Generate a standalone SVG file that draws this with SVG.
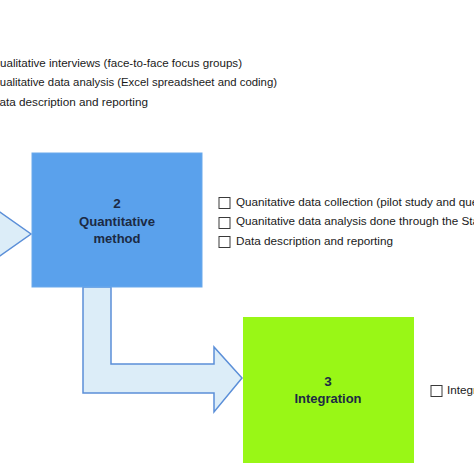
<svg xmlns="http://www.w3.org/2000/svg" width="474" height="474" viewBox="0 0 474 474">
<style>
.list{font-family:"Liberation Sans",Arial,sans-serif;font-size:11.7px;fill:#1a1a1a}
.title{font-family:"Liberation Sans",Arial,sans-serif;font-size:13.5px;font-weight:bold;fill:#1c2a44;text-anchor:middle}
.cb{fill:#fff;stroke:#3a3a3a;stroke-width:1}
.arrow{fill:#dcedf8;stroke:#5b8fd8;stroke-width:1.5;stroke-linejoin:miter}
</style>
<rect width="474" height="474" fill="#fff"/>
<g id="list1">
<text class="list" x="-9" y="67" textLength="251" lengthAdjust="spacingAndGlyphs">Qualitative interviews (face-to-face focus groups)</text>
<text class="list" x="-9" y="86" textLength="286" lengthAdjust="spacingAndGlyphs">Qualitative data analysis (Excel spreadsheet and coding)</text>
<text class="list" x="-9" y="106" textLength="157" lengthAdjust="spacingAndGlyphs">Data description and reporting</text>
</g>
<g id="connectors">
<polygon class="arrow" points="-20,198 31,234 -20,270"/>
<path class="arrow" d="M83,287 L111,287 L111,364 L214,364 L214,347 L242,378 L214,412 L214,393 L83,393 Z"/>
</g>
<g id="node2">
<rect x="32" y="153" width="170" height="134" fill="#5aa1ec" stroke="#6aa9ec" stroke-width="1"/>
<text class="title" x="117" y="208">2</text>
<text class="title" x="117" y="226" textLength="76" lengthAdjust="spacingAndGlyphs">Quantitative</text>
<text class="title" x="117" y="243" textLength="47" lengthAdjust="spacingAndGlyphs">method</text>
</g>
<g id="list2">
<rect class="cb" x="219" y="197.5" width="11" height="11"/>
<rect class="cb" x="219" y="217.5" width="11" height="11"/>
<rect class="cb" x="219" y="236.5" width="11" height="11"/>
<text class="list" x="236" y="206">Quanitative data collection (pilot study and questionnaire)</text>
<text class="list" x="236" y="225">Quanitative data analysis done through the Statistical Package</text>
<text class="list" x="236" y="245" textLength="157" lengthAdjust="spacingAndGlyphs">Data description and reporting</text>
</g>
<g id="node3">
<rect x="243" y="317" width="171" height="146" fill="#99f716"/>
<text class="title" x="328" y="386">3</text>
<text class="title" x="328" y="403" textLength="67" lengthAdjust="spacingAndGlyphs">Integration</text>
</g>
<g id="list3">
<rect class="cb" x="431" y="385.5" width="11" height="11"/>
<text class="list" x="447" y="394">Integration</text>
</g>
</svg>
